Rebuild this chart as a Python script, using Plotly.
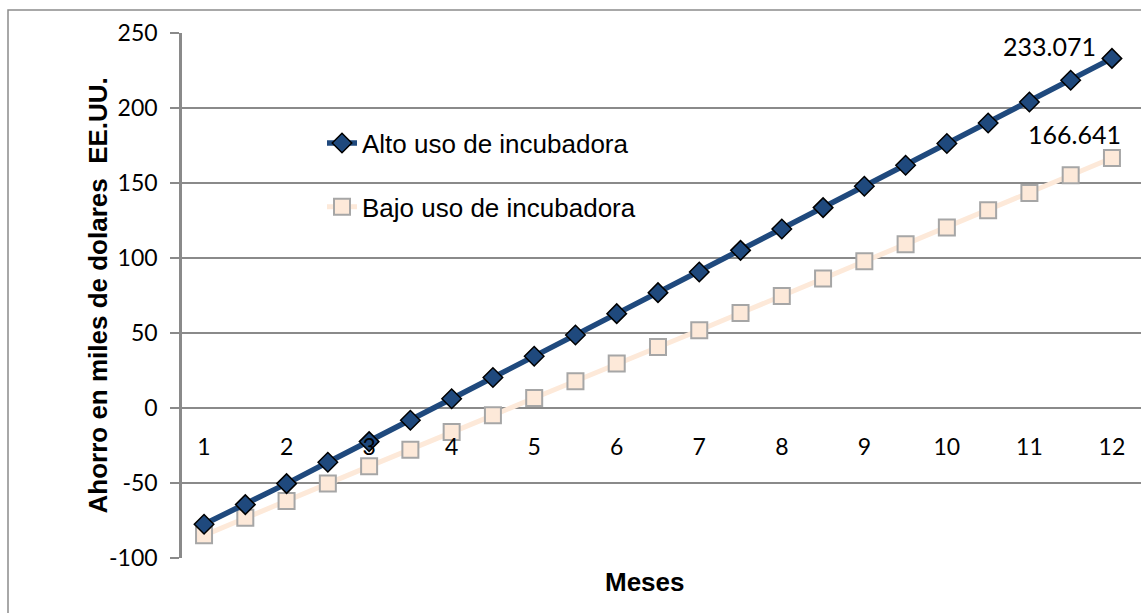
import plotly.graph_objects as go

# Monthly savings (thousands of US dollars), sampled every half month
meses = [1, 1.5, 2, 2.5, 3, 3.5, 4, 4.5, 5, 5.5, 6, 6.5,
         7, 7.5, 8, 8.5, 9, 9.5, 10, 10.5, 11, 11.5, 12]
alto_uso = [-77.5, -64.4, -50.4, -36.2, -22.4, -8.2, 6.2, 20.3, 34.5, 48.7, 62.9, 76.9,
            90.7, 105.1, 119.3, 133.6, 147.8, 161.8, 176.3, 190.0, 204.0, 218.5, 233.071]
bajo_uso = [-84.9, -73.1, -62.0, -50.4, -38.9, -27.8, -16.0, -4.9, 6.7, 17.8, 29.6, 40.7,
            51.8, 63.3, 74.7, 86.3, 97.8, 109.1, 120.3, 131.8, 143.3, 155.1, 166.641]
mes_ticks = [1, 2, 3, 4, 5, 6, 7, 8, 9, 10, 11, 12]
y_ticks = [-100, -50, 0, 50, 100, 150, 200, 250]
y_ticktext = ["-100", "-50", "0", "50", "100", "150", "200", "250"]

NAVY = "#1F497D"
PEACH = "#FDE9D9"
GRID = "#8A8A8A"
Y_MIN, Y_MAX = -100, 250

fig = go.Figure()
fig.add_trace(go.Scatter(
    x=meses, y=bajo_uso, name="Bajo uso de incubadora", legendgroup="b",
    mode="lines+markers",
    line=dict(color=PEACH, width=5),
    marker=dict(symbol="square", size=16, color=PEACH,
                line=dict(color="#A6A6A6", width=2)),
    legendrank=2,
))
fig.add_trace(go.Scatter(
    x=meses, y=alto_uso, name="Alto uso de incubadora", legendgroup="a",
    mode="lines+markers",
    line=dict(color=NAVY, width=5.5),
    marker=dict(symbol="diamond", size=15, color=NAVY,
                line=dict(color="black", width=1.5)),
    legendrank=1,
))

# Value labels on the final month
label_font = dict(family="Lato, Carlito, Calibri, sans-serif", size=25, color="black")
fig.add_annotation(x=meses[-1], y=alto_uso[-1], text=f"{alto_uso[-1]:.3f}",
                   showarrow=False, xanchor="right", yanchor="middle",
                   xshift=-14, yshift=12, font=label_font)
fig.add_annotation(x=meses[-1], y=bajo_uso[-1], text=f"{bajo_uso[-1]:.3f}",
                   showarrow=False, xanchor="right", yanchor="middle",
                   xshift=11, yshift=24, font=label_font)

# Axis titles
title_font = dict(family="Liberation Sans, Arial, sans-serif", size=26, color="black")
fig.add_annotation(xref="paper", yref="paper", x=(645 - 182) / 959, y=-0.045,
                   text="<b>Meses</b>", showarrow=False, xanchor="center",
                   yanchor="middle", font=title_font)
fig.add_annotation(xref="paper", yref="paper", x=(97 - 182) / 959, y=0.5,
                   text="<b>Ahorro en miles de dolares  EE.UU.</b>", showarrow=False,
                   textangle=-90, xanchor="center", yanchor="middle", font=title_font)

# Chart frame
fig.add_shape(type="rect", xref="paper", yref="paper",
              x0=(8 - 182) / 959, x1=1.05, y0=-0.2, y1=1 + (33 - 10) / 525,
              line=dict(color="#8C8C8C", width=1.5), fillcolor="rgba(0,0,0,0)",
              layer="below")

tick_font = dict(family="Lato, Carlito, Calibri, sans-serif", size=23, color="black")
fig.update_layout(
    width=1141, height=613,
    margin=dict(l=182, r=0, t=33, b=55),
    paper_bgcolor="white", plot_bgcolor="white",
    showlegend=True,
    legend=dict(x=(322 - 182) / 959, y=0.835, xanchor="left", yanchor="top",
                bgcolor="rgba(0,0,0,0)", traceorder="grouped", tracegroupgap=27,
                font=dict(family="Liberation Sans, Arial, sans-serif", size=26,
                          color="black")),
    xaxis=dict(
        range=[0.733, 12.352],
        tickmode="array", tickvals=mes_ticks, ticktext=[str(m) for m in mes_ticks],
        showgrid=False, zeroline=False, showline=False,
        anchor="free", position=(0 - Y_MIN) / (Y_MAX - Y_MIN),
        ticks="", ticklabelstandoff=23,
        tickfont=tick_font,
    ),
    yaxis=dict(
        range=[Y_MIN, Y_MAX],
        tickmode="array", tickvals=y_ticks, ticktext=y_ticktext,
        showgrid=True, gridcolor=GRID, gridwidth=1.5,
        zeroline=False,
        showline=True, linecolor=GRID, linewidth=2.5,
        ticks="outside", ticklen=9, tickcolor=GRID, tickwidth=1.5,
        ticklabelstandoff=8,
        tickfont=tick_font,
    ),
)

fig.write_html("out.html")
